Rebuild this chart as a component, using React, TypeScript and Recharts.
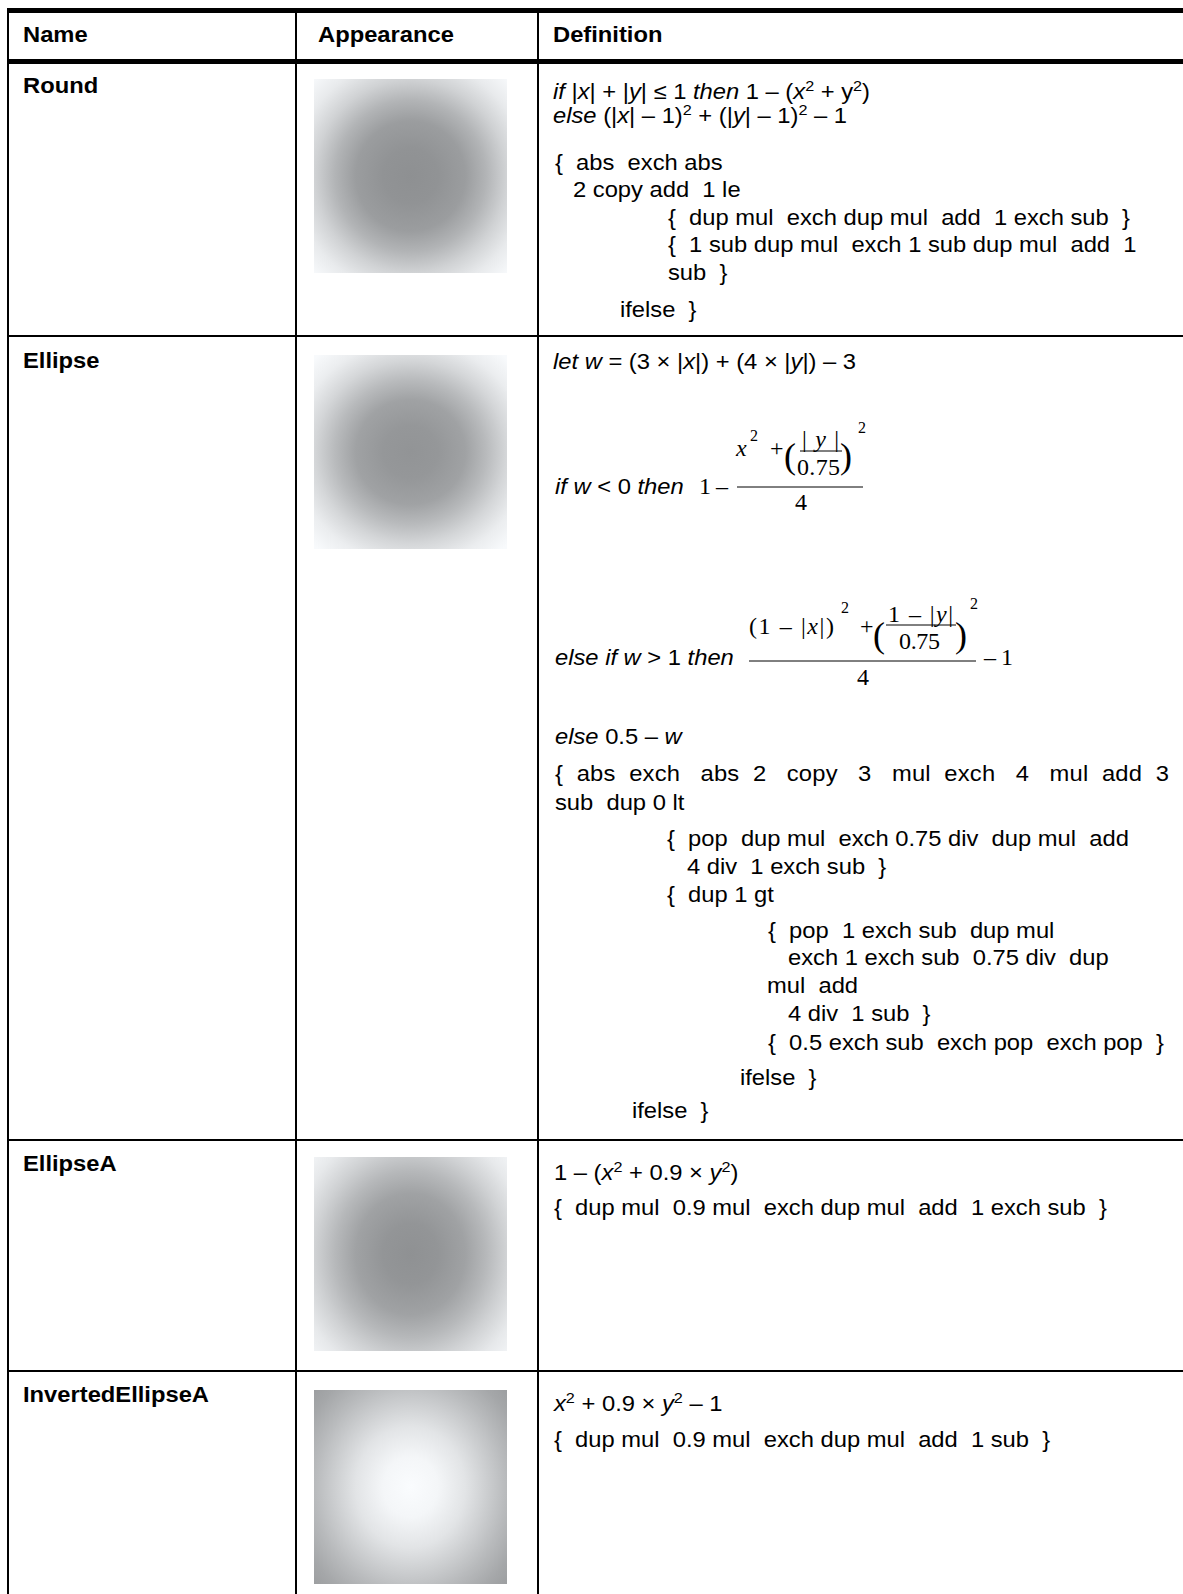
import { BarChart, Bar, XAxis, YAxis } from "recharts";

const headers = ["Name", "Appearance", "Definition"];
const names = ["Round", "Ellipse", "EllipseA", "InvertedEllipseA"];

// grey level of each swatch by relative distance from its centre (0 = centre, 1 = corner)
const roundTones = [[0, 142], [0.2, 145], [0.4, 155], [0.55, 178], [0.7, 208], [0.85, 232], [1, 247]];
const ellipseTones = [[0, 146], [0.2, 149], [0.4, 160], [0.55, 184], [0.7, 212], [0.85, 235], [1, 248]];
const ellipseATones = [[0, 143], [0.2, 147], [0.4, 160], [0.55, 182], [0.7, 208], [0.85, 231], [1, 245]];
const invertedTones = [[0, 250], [0.2, 244], [0.4, 226], [0.55, 205], [0.7, 184], [0.85, 165], [1, 152]];

const roundCode = [
  "{  abs  exch abs",
  "2 copy add  1 le",
  "{  dup mul  exch dup mul  add  1 exch sub  }",
  "{  1 sub dup mul  exch 1 sub dup mul  add  1",
  "sub  }",
  "ifelse  }",
];
const ellipseCode = [
  "{  abs  exch   abs  2   copy   3   mul  exch   4   mul  add  3",
  "sub  dup 0 lt",
  "{  pop  dup mul  exch 0.75 div  dup mul  add",
  "4 div  1 exch sub  }",
  "{  dup 1 gt",
  "{  pop  1 exch sub  dup mul",
  "exch 1 exch sub  0.75 div  dup",
  "mul  add",
  "4 div  1 sub  }",
  "{  0.5 exch sub  exch pop  exch pop  }",
  "ifelse  }",
  "ifelse  }",
];
const ellipseACode = ["{  dup mul  0.9 mul  exch dup mul  add  1 exch sub  }"];
const invertedCode = ["{  dup mul  0.9 mul  exch dup mul  add  1 sub  }"];

const SANS = "'Liberation Sans', Arial, Helvetica, sans-serif";
const SERIF = "'Liberation Serif', 'Times New Roman', serif";
const SX = 1.08;

function grey(g: number) {
  return `rgb(${g},${Math.min(255, g + 2)},${Math.min(255, g + 4)})`;
}

function Swatch({ id, name, tones, stretch }: { id: string; name: string; tones: number[][]; stretch: number }) {
  const data = [{ name, v: 1 }];
  return (
    <BarChart width={193} height={194} data={data} margin={{ top: 0, right: 0, bottom: 0, left: 0 }} barCategoryGap={0}>
      <defs>
        <radialGradient
          id={id}
          cx="0.5"
          cy="0.5"
          r="0.71"
          gradientTransform={`translate(0.5 0.5) scale(1 ${stretch}) translate(-0.5 -0.5)`}
        >
          {tones.map(([o, g]) => (
            <stop key={o} offset={o} stopColor={grey(g)} />
          ))}
        </radialGradient>
      </defs>
      <XAxis dataKey="name" hide />
      <YAxis hide domain={[0, 1]} />
      <Bar dataKey="v" fill={`url(#${id})`} isAnimationActive={false} />
    </BarChart>
  );
}

function T({ x, y, children, size = 22, bold = false, width }: any) {
  return (
    <text
      transform={`translate(${x} ${y}) scale(${SX} 1)`}
      fontSize={size}
      fontWeight={bold ? 700 : 400}
      fontFamily={SANS}
      fill="#000"
      xmlSpace="preserve"
      style={{ whiteSpace: "pre" }}
      textLength={width ? width / SX : undefined}
      lengthAdjust={width ? "spacing" : undefined}
    >
      {children}
    </text>
  );
}

// serif pieces of the typeset fractions
function M({ x, y, children, size = 24, italic = false, w }: any) {
  return (
    <text
      x={x}
      y={y}
      fontSize={size}
      fontFamily={SERIF}
      fontStyle={italic ? "italic" : "normal"}
      fill="#000"
      xmlSpace="preserve"
      style={{ whiteSpace: "pre" }}
      textLength={w}
      lengthAdjust={w ? "spacing" : undefined}
    >
      {children}
    </text>
  );
}

const I = ({ children }: any) => <tspan fontStyle="italic">{children}</tspan>;
const Sup = ({ children }: any) => (
  <tspan dy={-8} fontSize={15}>
    {children}
  </tspan>
);
const Down = ({ children }: any) => <tspan dy={8}>{children}</tspan>;

export default function App() {
  const roundX = [555, 573, 668, 668, 668, 620];
  const roundY = [170, 197, 225, 252, 280, 317];
  const ellX = [555, 555, 667, 687, 667, 768, 788, 767, 788, 768, 740, 632];
  const ellY = [781, 810, 846, 874, 902, 938, 965, 993, 1021, 1050, 1085, 1118];

  const swatches = [
    { id: "gRound", tones: roundTones, top: 79, stretch: 1 },
    { id: "gEllipse", tones: ellipseTones, top: 355, stretch: 0.95 },
    { id: "gEllipseA", tones: ellipseATones, top: 1157, stretch: 1.1 },
    { id: "gInverted", tones: invertedTones, top: 1390, stretch: 1.1 },
  ];
  const nameY = [93, 368, 1171, 1402];

  return (
    <div style={{ position: "absolute", left: 0, top: 0, width: 1183, height: 1594, overflow: "hidden", background: "#fff" }}>
      <svg width={1183} height={1594} style={{ position: "absolute", left: 0, top: 0 }}>
        {/* rules */}
        <rect x={7} y={8} width={1176} height={5} fill="#000" />
        <rect x={7} y={59} width={1176} height={5} fill="#000" />
        <rect x={7} y={335} width={1176} height={2} fill="#000" />
        <rect x={7} y={1139} width={1176} height={2} fill="#000" />
        <rect x={7} y={1370} width={1176} height={2} fill="#000" />
        <rect x={7} y={8} width={2} height={1586} fill="#000" />
        <rect x={295} y={8} width={2} height={1586} fill="#000" />
        <rect x={537} y={8} width={2} height={1586} fill="#000" />

        {/* header */}
        <T x={23} y={42} bold>{headers[0]}</T>
        <T x={318} y={42} bold>{headers[1]}</T>
        <T x={553} y={42} bold>{headers[2]}</T>

        {names.map((n, i) => (
          <T key={n} x={23} y={nameY[i]} bold>
            {n}
          </T>
        ))}

        {/* Round */}
        <T x={553} y={99}>
          <I>if</I> |<I>x</I>| + |<I>y</I>| ≤ 1 <I>then</I> 1 – (<I>x</I>
          <Sup>2</Sup>
          <Down> + y</Down>
          <Sup>2</Sup>
          <Down>)</Down>
        </T>
        <T x={553} y={123}>
          <I>else</I> (|<I>x</I>| – 1)<Sup>2</Sup>
          <Down> + (|</Down>
          <I>y</I>| – 1)<Sup>2</Sup>
          <Down> – 1</Down>
        </T>
        {roundCode.map((s, i) => (
          <T key={i} x={roundX[i]} y={roundY[i]}>
            {s}
          </T>
        ))}

        {/* Ellipse */}
        <T x={553} y={369}>
          <I>let w</I> = (3 × |<I>x</I>|) + (4 × |<I>y</I>|) – 3
        </T>

        <T x={555} y={494}>
          <I>if w</I> {"<"} 0 <I>then</I>
        </T>
        <M x={699} y={494}>1</M>
        <M x={716} y={494}>–</M>
        <line x1={737} x2={863} y1={487} y2={487} stroke="#000" strokeWidth={1} />
        <M x={736} y={456} italic>x</M>
        <M x={750} y={441} size={16}>2</M>
        <M x={770} y={456}>+</M>
        <M x={784} y={468} size={36}>(</M>
        <M x={802} y={447} w={37}>
          |<tspan fontStyle="italic">y</tspan>|
        </M>
        <line x1={800} x2={842} y1={451} y2={451} stroke="#000" strokeWidth={1} />
        <M x={797} y={475} w={43}>0.75</M>
        <M x={840} y={468} size={36}>)</M>
        <M x={858} y={433} size={16}>2</M>
        <M x={795} y={510}>4</M>

        <T x={555} y={665}>
          <I>else if w</I> {">"} 1 <I>then</I>
        </T>
        <line x1={749} x2={976} y1={661} y2={661} stroke="#000" strokeWidth={1} />
        <M x={749} y={634} w={85}>
          (1 – |<tspan fontStyle="italic">x</tspan>|)
        </M>
        <M x={841} y={613} size={16}>2</M>
        <M x={860} y={634}>+</M>
        <M x={873} y={647} size={36}>(</M>
        <M x={888} y={622} w={65}>
          1 – |<tspan fontStyle="italic">y</tspan>|
        </M>
        <line x1={886} x2={956} y1={625} y2={625} stroke="#000" strokeWidth={1} />
        <M x={899} y={649} w={41}>0.75</M>
        <M x={955} y={647} size={36}>)</M>
        <M x={970} y={609} size={16}>2</M>
        <M x={857} y={685}>4</M>
        <M x={984} y={665} w={29}>– 1</M>

        <T x={555} y={744}>
          <I>else</I> 0.5 – <I>w</I>
        </T>
        {ellipseCode.map((s, i) => (
          <T key={i} x={ellX[i]} y={ellY[i]} width={i === 0 ? 614 : undefined}>
            {s}
          </T>
        ))}

        {/* EllipseA */}
        <T x={554} y={1180}>
          1 – (<I>x</I>
          <Sup>2</Sup>
          <Down> + 0.9 × </Down>
          <I>y</I>
          <Sup>2</Sup>
          <Down>)</Down>
        </T>
        <T x={554} y={1215}>{ellipseACode[0]}</T>

        {/* InvertedEllipseA */}
        <T x={554} y={1411}>
          <I>x</I>
          <Sup>2</Sup>
          <Down> + 0.9 × </Down>
          <I>y</I>
          <Sup>2</Sup>
          <Down> – 1</Down>
        </T>
        <T x={554} y={1447}>{invertedCode[0]}</T>
      </svg>

      {swatches.map((s, i) => (
        <div key={s.id} style={{ position: "absolute", left: 314, top: s.top, width: 193, height: 194 }}>
          <Swatch id={s.id} name={names[i]} tones={s.tones} stretch={s.stretch} />
        </div>
      ))}
    </div>
  );
}
